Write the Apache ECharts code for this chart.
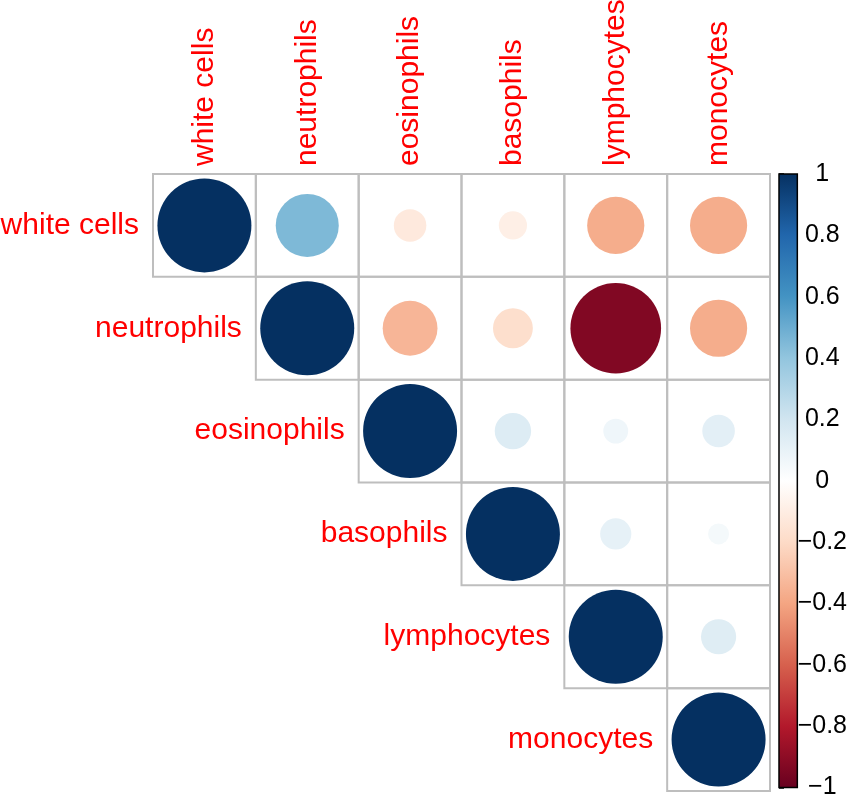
<!DOCTYPE html>
<html lang="en">
  <head>
    <meta charset="UTF-8" />
    <title>corrplot</title>
    <script src="https://cdn.jsdelivr.net/npm/echarts@6.0.0/dist/echarts.min.js"></script>
  </head>
  <body style="margin:0; background:#fff">
    <div id="main" style="width: 850px; height: 800px"></div>
  </body>
  <script type="text/javascript">
    // variables, in plot order
    const vars = ["white cells", "neutrophils", "eosinophils", "basophils", "lymphocytes", "monocytes"];

    // correlation rows (upper triangle is what gets drawn)
    const rowWhite = [1, 0.45, -0.12, -0.09, -0.37, -0.37];
    const rowNeutro = [0.45, 1, -0.34, -0.18, -0.93, -0.37];
    const rowEosino = [-0.12, -0.34, 1, 0.15, 0.07, 0.12];
    const rowBaso = [-0.09, -0.18, 0.15, 1, 0.11, 0.05];
    const rowLympho = [-0.37, -0.93, 0.07, 0.11, 1, 0.14];
    const rowMono = [-0.37, -0.37, 0.12, 0.05, 0.14, 1];
    const corrRows = [rowWhite, rowNeutro, rowEosino, rowBaso, rowLympho, rowMono];

    // colorbar ticks
    const barTicks = [-1, -0.8, -0.6, -0.4, -0.2, 0, 0.2, 0.4, 0.6, 0.8, 1];

    // RdBu palette, from -1 to 1
    const palette = ["#67001F", "#B2182B", "#D6604D", "#F4A582", "#FDDBC7", "#FFFFFF",
                     "#D1E5F0", "#92C5DE", "#4393C3", "#2166AC", "#053061"];

    const red = "#FF0000";
    const font = "'Liberation Sans', Arial, sans-serif";
    const labelSize = 30;

    let cells = [];
    corrRows.forEach((row, i) => {
      row.forEach((v, j) => {
        if (j >= i) cells.push([j, i, v]);
      });
    });

    var chartDom = document.getElementById("main");
    var myChart = echarts.init(chartDom);
    var option;

    option = {
      backgroundColor: "#fff",
      animation: false,
      grid: [
        { left: 153, top: 174, width: 617, height: 617 },
        { left: 779, top: 174, width: 22, height: 617 },
      ],
      xAxis: [
        { type: "category", gridIndex: 0, data: vars, show: false },
        { type: "value", gridIndex: 1, min: 0, max: 1, show: false },
      ],
      yAxis: [
        { type: "category", gridIndex: 0, data: vars, inverse: true, show: false },
        {
          type: "value",
          gridIndex: 1,
          position: "right",
          min: -1,
          max: 1,
          interval: 0.2,
          splitLine: { show: false },
          axisLine: { show: false },
          axisTick: { show: true, length: 5, lineStyle: { color: "#000", width: 1.5 } },
          axisLabel: {
            align: "center",
            margin: 25,
            color: "#000",
            fontSize: 25,
            fontFamily: font,
            formatter: (v) => String(Math.round(v * 10) / 10).replace("-", "\u2212"),
          },
        },
      ],
      visualMap: {
        show: false,
        type: "continuous",
        seriesIndex: 0,
        dimension: 2,
        min: -1,
        max: 1,
        inRange: { color: palette },
      },
      series: [
        {
          type: "custom",
          xAxisIndex: 0,
          yAxisIndex: 0,
          clip: false,
          data: cells,
          renderItem: function (params, api) {
            const c = api.coord([api.value(0), api.value(1)]);
            const s = api.size([1, 1]);
            const v = api.value(2);
            const children = [
              {
                type: "rect",
                shape: { x: c[0] - s[0] / 2, y: c[1] - s[1] / 2, width: s[0], height: s[1] },
                style: { fill: null, stroke: "#BEBEBE", lineWidth: 2 },
              },
              {
                type: "circle",
                shape: { cx: c[0], cy: c[1], r: 0.457 * s[0] * Math.sqrt(Math.abs(v)) },
                style: { fill: api.visual("color") },
              },
            ];
            // column label on top of first row
            if (api.value(1) === 0) {
              children.push({
                type: "text",
                x: c[0],
                y: c[1] - s[1] / 2 - 8,
                rotation: Math.PI / 2,
                style: {
                  text: vars[api.value(0)],
                  fill: red,
                  font: labelSize + "px " + font,
                  align: "left",
                  verticalAlign: "middle",
                },
              });
            }
            // row label beside the diagonal
            if (api.value(0) === api.value(1)) {
              children.push({
                type: "text",
                x: c[0] - s[0] / 2 - 14,
                y: c[1],
                style: {
                  text: vars[api.value(1)],
                  fill: red,
                  font: labelSize + "px " + font,
                  align: "right",
                  verticalAlign: "middle",
                },
              });
            }
            return { type: "group", children: children };
          },
        },
        {
          type: "custom",
          xAxisIndex: 1,
          yAxisIndex: 1,
          data: [[0, barTicks[barTicks.length - 1], barTicks[0]]],
          renderItem: function (params, api) {
            const p1 = api.coord([0, api.value(1)]);
            const p2 = api.coord([1, api.value(2)]);
            const stops = palette
              .slice()
              .reverse()
              .map((col, k) => ({ offset: k / (palette.length - 1), color: col }));
            return {
              type: "rect",
              shape: { x: p1[0], y: p1[1], width: p2[0] - p1[0], height: p2[1] - p1[1] },
              style: {
                fill: { type: "linear", x: 0, y: 0, x2: 0, y2: 1, colorStops: stops },
                stroke: "#000",
                lineWidth: 1.5,
              },
            };
          },
        },
      ],
    };

    option && myChart.setOption(option);
  </script>
</html>
